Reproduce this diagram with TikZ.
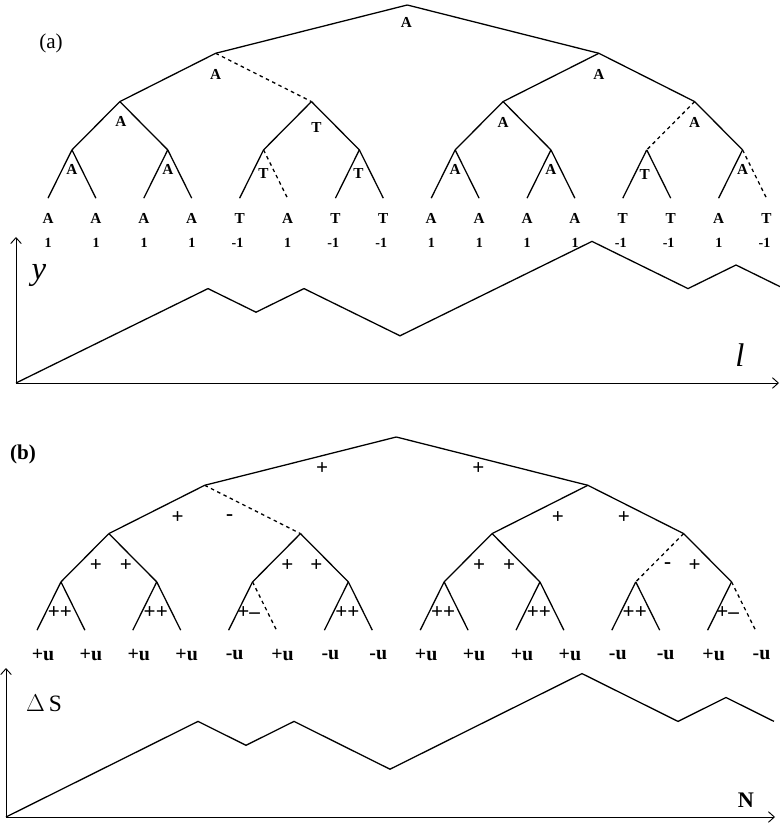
\documentclass[tikz,border=0pt]{standalone}
\usepackage{fontspec}
\setmainfont{Liberation Serif}
\usetikzlibrary{arrows.meta, calc}
\tikzset{
  branch/.style={line width=1.1pt},
  % cut branches, named by their child node
  gap 2-2/.style={dash pattern=on 3pt off 3pt},
  gap 3-7/.style={dash pattern=on 3pt off 3pt},
  gap 4-6/.style={dash pattern=on 3pt off 3pt},
  gap 4-16/.style={dash pattern=on 3pt off 3pt},
  axis/.style={line width=0.8pt, -{Straight Barb[length=5pt, width=9pt]}},
  walk/.style={line width=1.1pt},
  letter/.style={font=\bfseries\fontsize{13}{13}\selectfont, inner sep=0pt},
  spin/.style={font=\bfseries\fontsize{12}{12}\selectfont, inner sep=0pt},
  sign/.style={font=\bfseries\fontsize{18}{18}\selectfont, inner sep=0pt},
  charge/.style={font=\bfseries\fontsize{17}{17}\selectfont, inner sep=0pt},
  axlabel/.style={inner sep=0pt},
}

\begin{document}
\begin{tikzpicture}[x=0.03cm, y=-0.03cm]
\useasboundingbox (0,0) rectangle (779,825);

%% ─── Tree points, both panels ────────────────────────────────────────────────
\foreach \p/\dx/\dy in {a/0/0, b/-11/432} {
  \begin{scope}[shift={(\dx,\dy)}]
  \foreach \l/\w/\h in {0/16/5, 1/8/53.3, 2/4/101.6, 3/2/149.9, 4/1/198.2} {
    \pgfmathtruncatemacro\n{16/\w}
    \foreach \j in {1,...,\n}
      \coordinate (\p\l-\j) at ({48+47.9*(\w*(\j-1)+(\w-1)/2)}, \h);
  }
  \end{scope}
}

%% ─── Tree branches ───────────────────────────────────────────────────────────
\foreach \p in {a, b} {
  \foreach \l/\n in {0/1, 1/2, 2/4, 3/8} {
    \pgfmathtruncatemacro\c{\l+1}
    \foreach \j in {1,...,\n} {
      \pgfmathtruncatemacro\kl{2*\j-1}
      \pgfmathtruncatemacro\kr{2*\j}
      \draw[branch, gap \c-\kl/.try] (\p\l-\j) -- (\p\c-\kl);
      \draw[branch, gap \c-\kr/.try] (\p\l-\j) -- (\p\c-\kr);
    }
  }
}

%% ─── Panel (a): letters at the branch points ────────────────────────────────
\node[font=\fontsize{18}{18}\selectfont, inner sep=0pt] (capa) at (51,43) {(a)};
\foreach \c/\t/\dx/\dy in {a0-1/A/-1/17, a1-1/A/0/21, a1-2/A/0/21,
    a2-1/A/1/20, a2-2/T/5/26, a2-3/A/0/21, a2-4/A/0/21,
    a3-1/A/0/20, a3-2/A/0/20, a3-3/T/0/24, a3-4/T/-1/24,
    a3-5/A/0/20, a3-6/A/0/20, a3-7/T/-2/25, a3-8/A/0/20}
  \node[letter] (t\c) at ($(\c)+(\dx,\dy)$) {\t};

% leaves: letter and step
\foreach \t/\s [count=\i] in {A/1, A/1, A/1, A/1, T/-1, A/1, T/-1, T/-1,
    A/1, A/1, A/1, A/1, T/-1, T/-1, A/1, T/-1} {
  \node[letter] (la-\i) at ($(a4-\i)+(0,20)$) {\t};
  \node[spin, anchor=base east] (sa-\i) at ($(a4-\i)+(4,49)$) {\s};
}

%% ─── Panel (a): walk ─────────────────────────────────────────────────────────
\coordinate (oa) at (16,383);
\coordinate (ya) at (16,237);
\coordinate (xa) at (779,383);
\draw[axis] (oa) -- (ya);
\draw[axis] (oa) -- (xa);
\node[axlabel, font=\itshape\fontsize{28}{28}\selectfont] (ylab) at (39,276) {y};
\node[axlabel, font=\itshape\fontsize{28}{28}\selectfont] (llab) at (740,355) {l};
\draw[walk] (oa) \foreach \s in {1,1,1,1,-1,1,-1,-1,1,1,1,1,-1,-1,1,-1} { -- ++(48,-23.6*\s) };

%% ─── Panel (b): signs on the branches ───────────────────────────────────────
\node[font=\bfseries\fontsize{18}{18}\selectfont, inner sep=0pt] (capb) at (23,454) {(b)};
\foreach \c/\lsg/\rsg/\xl/\xr in {b0-1/+/+/-74/82, b1-1/+/-/-27/25, b1-2/+/+/-30/36,
    b2-1/+/+/-13/17, b2-2/+/+/-13/16, b2-3/+/+/-13/17, b2-4/-/+/-16/11} {
  \node[sign] (l\c) at ($(\c)+(\xl,32)$) {\lsg};
  \node[sign] (r\c) at ($(\c)+(\xr,32)$) {\rsg};
}
\foreach \c/\t/\dx in {b3-1/++/-1, b3-2/++/-1, b3-3/+–/-4, b3-4/++/-1,
    b3-5/++/-1, b3-6/++/-1, b3-7/++/-1, b3-8/+–/-4}
  \node[sign] (m\c) at ($(\c)+(\dx,31)$) {\t};

% leaves: energy steps
\foreach \u [count=\i] in {+u, +u, +u, +u, -u, +u, -u, -u,
    +u, +u, +u, +u, -u, -u, +u, -u}
  \node[charge] (ub-\i) at ($(b4-\i)+(6,25)$) {\u};

%% ─── Panel (b): walk ─────────────────────────────────────────────────────────
\coordinate (ob) at (6,817);
\coordinate (yb) at (6,668);
\coordinate (xb) at (775,817);
\draw[axis] (ob) -- (yb);
\draw[axis] (ob) -- (xb);
\node[axlabel, font=\fontsize{20}{20}\selectfont] (slab) at (44,703) {$\Delta$\,S};
\node[axlabel, font=\bfseries\fontsize{19}{19}\selectfont] (nlab) at (746,800) {N};
\draw[walk] (ob) \foreach \s in {1,1,1,1,-1,1,-1,-1,1,1,1,1,-1,-1,1,-1} { -- ++(48,-23.9*\s) };

\end{tikzpicture}
\end{document}
